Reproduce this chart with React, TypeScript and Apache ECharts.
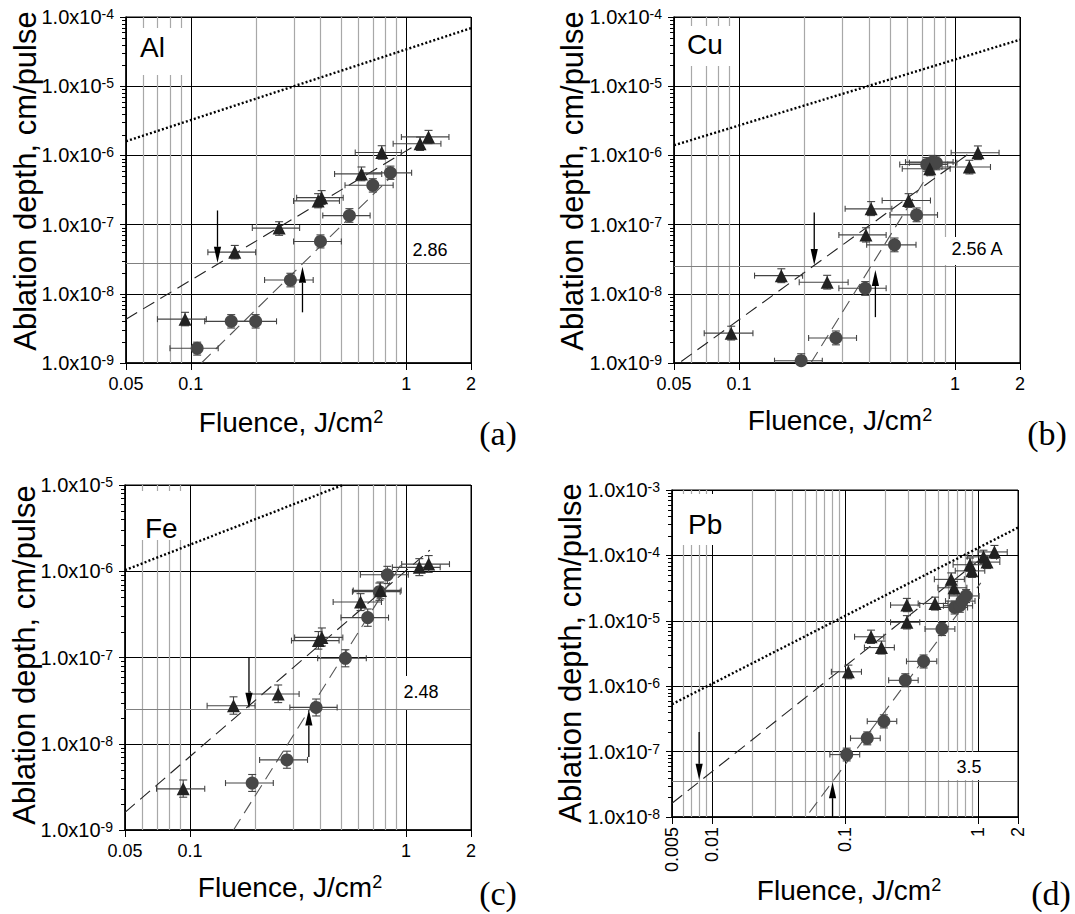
import React, { useEffect, useRef } from 'react';
import * as echarts from 'echarts';

const SANS = '"Liberation Sans", Arial, Helvetica, sans-serif';
const SERIF = '"Liberation Serif", "Times New Roman", serif';

// minor vertical grid-line values
const minorTicksStd = [0.06, 0.07, 0.08, 0.09, 0.2, 0.3, 0.4, 0.5, 0.6, 0.7, 0.8, 0.9];
const minorTicksPb = [0.006, 0.007, 0.008, 0.009, 0.02, 0.03, 0.04, 0.05, 0.06, 0.07, 0.08, 0.09, 0.2, 0.3, 0.4, 0.5, 0.6, 0.7, 0.8, 0.9];
// minor y-tick multipliers within each decade
const minorMultipliers = [2, 3, 4, 5, 6, 7, 8, 9];

// [fluence, depth, fluenceLow, fluenceHigh, depthLow, depthHigh]
// (a) Al
const alTriangles = [
  [0.094, 4.3e-9, 0.07, 0.118, 3.45e-9, 5.4e-9],
  [0.16, 4.0e-8, 0.12, 0.2, 3.2e-8, 5.0e-8],
  [0.257, 8.9e-8, 0.193, 0.32, 7.0e-8, 1.1e-7],
  [0.39, 2.2e-7, 0.3, 0.49, 1.75e-7, 2.8e-7],
  [0.405, 2.45e-7, 0.31, 0.51, 1.95e-7, 3.1e-7],
  [0.62, 5.4e-7, 0.465, 0.77, 4.3e-7, 6.8e-7],
  [0.77, 1.1e-6, 0.58, 0.95, 0.88e-6, 1.38e-6],
  [1.16, 1.47e-6, 0.87, 1.45, 1.18e-6, 1.84e-6],
  [1.27, 1.85e-6, 0.95, 1.58, 1.48e-6, 2.3e-6],
];
const alCircles = [
  [0.107, 1.63e-9, 0.08, 0.134, 1.3e-9, 2.0e-9],
  [0.154, 4.0e-9, 0.116, 0.193, 3.2e-9, 5.0e-9],
  [0.2, 4.0e-9, 0.15, 0.25, 3.2e-9, 5.0e-9],
  [0.29, 1.58e-8, 0.22, 0.37, 1.26e-8, 1.98e-8],
  [0.4, 5.7e-8, 0.3, 0.5, 4.6e-8, 7.1e-8],
  [0.545, 1.35e-7, 0.41, 0.68, 1.08e-7, 1.7e-7],
  [0.7, 3.7e-7, 0.52, 0.87, 2.95e-7, 4.6e-7],
  [0.845, 5.6e-7, 0.63, 1.06, 4.5e-7, 7.0e-7],
];
const alTriangleFit = [[0.05, 4.3e-9], [1.07, 1.32e-6]];
const alCircleFit = [[0.112, 1e-9], [0.88, 5.4e-7]];
const alDotted = [[0.05, 1.6e-6], [2, 6.9e-5]];
const alArrows = [[0.133, 1.6e-7, 2.8e-8], [0.33, 5.4e-9, 2.45e-8]];
const alThreshold = 2.75e-8;

// (b) Cu
const cuTriangles = [
  [0.092, 2.7e-9, 0.069, 0.116, 2.15e-9, 3.4e-9],
  [0.157, 1.83e-8, 0.118, 0.197, 1.45e-8, 2.3e-8],
  [0.256, 1.47e-8, 0.19, 0.32, 1.17e-8, 1.85e-8],
  [0.387, 7.1e-8, 0.29, 0.48, 5.6e-8, 9.0e-8],
  [0.409, 1.69e-7, 0.31, 0.51, 1.35e-7, 2.15e-7],
  [0.61, 2.23e-7, 0.46, 0.77, 1.77e-7, 2.8e-7],
  [0.764, 6.4e-7, 0.57, 0.95, 5.1e-7, 8.0e-7],
  [1.166, 6.8e-7, 0.87, 1.46, 5.4e-7, 8.5e-7],
  [1.277, 1.09e-6, 0.96, 1.6, 0.87e-6, 1.37e-6],
];
const cuCircles = [
  [0.194, 1.08e-9, 0.146, 0.243, 0.86e-9, 1.36e-9],
  [0.281, 2.3e-9, 0.21, 0.35, 1.83e-9, 2.9e-9],
  [0.384, 1.2e-8, 0.29, 0.48, 0.95e-8, 1.5e-8],
  [0.525, 5.1e-8, 0.39, 0.66, 4.05e-8, 6.4e-8],
  [0.664, 1.38e-7, 0.5, 0.83, 1.1e-7, 1.74e-7],
  [0.74, 7.4e-7, 0.555, 0.925, 5.9e-7, 9.3e-7],
  [0.785, 8.0e-7, 0.59, 0.98, 6.4e-7, 1.0e-6],
  [0.82, 7.8e-7, 0.615, 1.02, 6.2e-7, 9.8e-7],
];
const cuTriangleFit = [[0.054, 1.05e-9], [1.144, 1.03e-6]];
const cuCircleFit = [[0.215, 1e-9], [0.78, 6.4e-7]];
const cuDotted = [[0.05, 1.4e-6], [2, 4.7e-5]];
const cuArrows = [[0.223, 1.5e-7, 2.6e-8], [0.428, 4.6e-9, 2.2e-8]];
const cuThreshold = 2.5e-8;

// (c) Fe
const feTriangles = [
  [0.093, 3.0e-9, 0.07, 0.117, 2.4e-9, 3.8e-9],
  [0.159, 2.76e-8, 0.12, 0.2, 2.2e-8, 3.5e-8],
  [0.256, 3.77e-8, 0.19, 0.32, 3.0e-8, 4.8e-8],
  [0.393, 1.57e-7, 0.295, 0.49, 1.25e-7, 2.0e-7],
  [0.408, 1.71e-7, 0.305, 0.51, 1.36e-7, 2.2e-7],
  [0.616, 4.4e-7, 0.46, 0.77, 3.5e-7, 5.5e-7],
  [0.762, 6.0e-7, 0.57, 0.95, 4.8e-7, 7.5e-7],
  [1.153, 1.11e-6, 0.865, 1.44, 0.89e-6, 1.4e-6],
  [1.274, 1.21e-6, 0.955, 1.59, 0.97e-6, 1.52e-6],
];
const feCircles = [
  [0.194, 3.5e-9, 0.146, 0.243, 2.8e-9, 4.4e-9],
  [0.281, 6.5e-9, 0.21, 0.35, 5.2e-9, 8.2e-9],
  [0.3835, 2.64e-8, 0.29, 0.48, 2.1e-8, 3.3e-8],
  [0.524, 9.8e-8, 0.39, 0.655, 7.8e-8, 1.23e-7],
  [0.665, 2.9e-7, 0.5, 0.83, 2.3e-7, 3.65e-7],
  [0.753, 5.8e-7, 0.565, 0.94, 4.6e-7, 7.3e-7],
  [0.82, 9.1e-7, 0.615, 1.025, 7.2e-7, 1.14e-6],
];
const feTriangleFit = [[0.05, 1.6e-9], [1.29, 1.76e-6]];
const feCircleFit = [[0.159, 1e-9], [0.95, 1.2e-6]];
const feDotted = [[0.05, 1.03e-6], [0.51, 1e-5]];
const feArrows = [[0.1875, 1e-7, 2.55e-8], [0.355, 7e-9, 2.5e-8]];
const feThreshold = 2.5e-8;

// (d) Pb
const pbTriangles = [
  [0.106, 1.66e-6, 0.079, 0.133, 1.3e-6, 2.1e-6],
  [0.157, 5.7e-6, 0.118, 0.196, 4.5e-6, 7.2e-6],
  [0.188, 3.9e-6, 0.14, 0.235, 3.1e-6, 4.9e-6],
  [0.292, 1.74e-5, 0.22, 0.365, 1.38e-5, 2.2e-5],
  [0.292, 9.5e-6, 0.22, 0.365, 7.5e-6, 1.2e-5],
  [0.475, 1.84e-5, 0.355, 0.595, 1.46e-5, 2.3e-5],
  [0.629, 4.3e-5, 0.47, 0.79, 3.4e-5, 5.4e-5],
  [0.66, 3.2e-5, 0.5, 0.825, 2.5e-5, 4.0e-5],
  [0.87, 7.2e-5, 0.65, 1.09, 5.7e-5, 9.1e-5],
  [0.9, 5.8e-5, 0.675, 1.125, 4.6e-5, 7.3e-5],
  [1.1, 9.5e-5, 0.83, 1.38, 7.5e-5, 1.2e-4],
  [1.17, 7.9e-5, 0.88, 1.46, 6.3e-5, 1.0e-4],
  [1.33, 1.13e-4, 1.0, 1.66, 9.0e-5, 1.42e-4],
];
const pbCircles = [
  [0.103, 9.0e-8, 0.077, 0.129, 7.2e-8, 1.13e-7],
  [0.147, 1.6e-7, 0.11, 0.184, 1.27e-7, 2.0e-7],
  [0.196, 2.9e-7, 0.147, 0.245, 2.3e-7, 3.65e-7],
  [0.284, 1.23e-6, 0.213, 0.355, 0.98e-6, 1.55e-6],
  [0.39, 2.4e-6, 0.29, 0.49, 1.9e-6, 3.0e-6],
  [0.536, 7.5e-6, 0.4, 0.67, 5.95e-6, 9.4e-6],
  [0.668, 1.6e-5, 0.5, 0.835, 1.27e-5, 2.0e-5],
  [0.73, 1.7e-5, 0.55, 0.91, 1.35e-5, 2.15e-5],
  [0.76, 2.0e-5, 0.57, 0.95, 1.6e-5, 2.5e-5],
  [0.814, 2.4e-5, 0.61, 1.02, 1.9e-5, 3.0e-5],
];
const pbTriangleFit = [[0.005, 1.62e-8], [1.11, 9.7e-5]];
const pbCircleFit = [[0.054, 1.17e-8], [1.05, 3.8e-5]];
const pbDotted = [[0.005, 5.3e-7], [2, 2.66e-4]];
const pbArrows = [[0.008, 2.0e-7, 3.7e-8], [0.0806, 1e-8, 3.4e-8]];
const pbThreshold = 3.6e-8;

const panels = [
  { name: 'Al', letter: '(a)', ratio: '2.86', x: [0.05, 2], y: [1e-9, 1e-4], minor: minorTicksStd, tri: alTriangles, cir: alCircles, triFit: alTriangleFit, cirFit: alCircleFit, dot: alDotted, arrows: alArrows, thr: alThreshold },
  { name: 'Cu', letter: '(b)', ratio: '2.56 A', x: [0.05, 2], y: [1e-9, 1e-4], minor: minorTicksStd, tri: cuTriangles, cir: cuCircles, triFit: cuTriangleFit, cirFit: cuCircleFit, dot: cuDotted, arrows: cuArrows, thr: cuThreshold },
  { name: 'Fe', letter: '(c)', ratio: '2.48', x: [0.05, 2], y: [1e-9, 1e-5], minor: minorTicksStd, tri: feTriangles, cir: feCircles, triFit: feTriangleFit, cirFit: feCircleFit, dot: feDotted, arrows: feArrows, thr: feThreshold },
  { name: 'Pb', letter: '(d)', ratio: '3.5', x: [0.005, 2], y: [1e-8, 1e-3], minor: minorTicksPb, tri: pbTriangles, cir: pbCircles, triFit: pbTriangleFit, cirFit: pbCircleFit, dot: pbDotted, arrows: pbArrows, thr: pbThreshold },
];

// layout (pixels)
const layouts = [
  { grid: { left: 126, top: 17, width: 345, height: 346 }, nameBox: [128, 28, 58, 47], nameXY: [140, 47], ratioBox: [408, 236, 62, 27], ratioXY: [430, 250], yTitle: [25, 181], xTitle: [291, 422], letterXY: [498, 433] },
  { grid: { left: 674, top: 17, width: 346, height: 346 }, nameBox: [677, 26, 58, 40], nameXY: [687, 44], ratioBox: [940, 237, 79, 28], ratioXY: [977, 249], yTitle: [572, 181], xTitle: [840, 420], letterXY: [1047, 433] },
  { grid: { left: 125, top: 485, width: 346, height: 345 }, nameBox: [128, 491, 58, 49], nameXY: [145, 528], ratioBox: [398, 676, 72, 33], ratioXY: [421, 692], yTitle: [24, 655], xTitle: [290, 887], letterXY: [498, 893] },
  { grid: { left: 672, top: 490, width: 346, height: 327 }, nameBox: [676, 494, 46, 51], nameXY: [688, 524], ratioBox: [945, 752, 72, 28], ratioXY: [969, 767], yTitle: [570, 653], xTitle: [849, 890], letterXY: [1051, 893] },
];

function minorYValues(range: number[]) {
  const lo = Math.round(Math.log10(range[0]));
  const hi = Math.round(Math.log10(range[1]));
  const out: number[] = [];
  for (let e = lo; e < hi; e++) minorMultipliers.forEach((m) => out.push(m * Math.pow(10, e)));
  return out;
}

function buildOption() {
  const grid: any[] = [];
  const xAxis: any[] = [];
  const yAxis: any[] = [];
  const series: any[] = [];
  const graphic: any[] = [];

  panels.forEach((p, i) => {
    const L = layouts[i];
    grid.push({ ...L.grid, show: true, borderColor: '#000', borderWidth: 1, backgroundColor: '#fff' });
    xAxis.push({
      type: 'log', logBase: 10, gridIndex: i, min: p.x[0], max: p.x[1],
      axisLine: { show: true, lineStyle: { color: '#000', width: 1.5 } },
      axisTick: { show: true, length: 7, lineStyle: { color: '#000', width: 1 } },
      axisLabel: {
        show: true, color: '#000', fontSize: 18, fontFamily: SANS, margin: i === 3 ? 10 : 12,
        rotate: i === 3 ? 90 : 0, showMinLabel: true, showMaxLabel: true,
        formatter: (v: number) => String(Number(v.toPrecision(3))),
      },
      splitLine: { show: true, lineStyle: { color: '#000', width: 1 } },
    });
    yAxis.push({
      type: 'log', logBase: 10, gridIndex: i, min: p.y[0], max: p.y[1],
      axisLine: { show: true, lineStyle: { color: '#000', width: 1.5 } },
      axisTick: { show: true, length: 6, lineStyle: { color: '#000', width: 1 } },
      minorTick: { show: false },
      axisLabel: {
        show: true, margin: 12, showMinLabel: true, showMaxLabel: true,
        formatter: (v: number) => `{m|1.0x10}{s|${Math.round(Math.log10(v))}}`,
        rich: {
          m: { fontSize: 20, fontFamily: SANS, color: '#000' },
          s: { fontSize: 14, fontFamily: SANS, color: '#000', verticalAlign: 'top' },
        },
      },
      splitLine: { show: true, lineStyle: { color: '#000', width: 1 } },
    });

    const ax = { xAxisIndex: i, yAxisIndex: i };
    const yMin = p.y[0];
    const xMin = p.x[0];

    // minor vertical grid lines
    series.push({
      type: 'custom', ...ax, z: 1, silent: true, clip: true,
      data: p.minor.map((v) => [v, yMin]), encode: { x: 0, y: 1 },
      renderItem: (params: any, api: any) => {
        const cs = params.coordSys;
        const x = Math.round(api.coord([api.value(0), api.value(1)])[0]) + 0.5;
        return { type: 'line', shape: { x1: x, y1: cs.y, x2: x, y2: cs.y + cs.height }, style: { stroke: '#a8a8a8', lineWidth: 1.2 } };
      },
    });
    // minor y ticks on left axis
    series.push({
      type: 'custom', ...ax, z: 1, silent: true,
      data: minorYValues(p.y).map((v) => [xMin, v]), encode: { x: 0, y: 1 },
      renderItem: (params: any, api: any) => {
        const pt = api.coord([api.value(0), api.value(1)]);
        const y = Math.round(pt[1]) + 0.5;
        return { type: 'line', shape: { x1: pt[0] - 4, y1: y, x2: pt[0], y2: y }, style: { stroke: '#000', lineWidth: 1 } };
      },
    });
    // threshold line
    series.push({
      type: 'custom', ...ax, z: 1, silent: true,
      data: [[xMin, p.thr]], encode: { x: 0, y: 1 },
      renderItem: (params: any, api: any) => {
        const cs = params.coordSys;
        const y = Math.round(api.coord([api.value(0), api.value(1)])[1]) + 0.5;
        return { type: 'line', shape: { x1: cs.x, y1: y, x2: cs.x + cs.width, y2: y }, style: { stroke: '#808080', lineWidth: 1.2 } };
      },
    });
    series.push({
      type: 'line', ...ax, z: 3, silent: true, data: p.dot, showSymbol: false, symbol: 'none',
      lineStyle: { color: '#000', width: 2.4, type: [2, 2.2] },
    });
    series.push({
      type: 'line', ...ax, z: 3, silent: true, data: p.triFit, showSymbol: false, symbol: 'none',
      lineStyle: { color: '#222', width: 1.1, type: [13, 7] },
    });
    series.push({
      type: 'line', ...ax, z: 3, silent: true, data: p.cirFit, showSymbol: false, symbol: 'none',
      lineStyle: { color: '#555', width: 1.1, type: [13, 7] },
    });
    const errSeries = (rows: number[][]) => ({
      type: 'custom', ...ax, z: 4, silent: true, clip: true,
      data: rows, encode: { x: 0, y: 1 },
      renderItem: (params: any, api: any) => {
        const x = api.value(0), y = api.value(1);
        const pl = api.coord([api.value(2), y]);
        const pr = api.coord([api.value(3), y]);
        const pb = api.coord([x, api.value(4)]);
        const pt = api.coord([x, api.value(5)]);
        const st = { stroke: '#444', lineWidth: 1.1 };
        const ln = (x1: number, y1: number, x2: number, y2: number) => ({ type: 'line', shape: { x1, y1, x2, y2 }, style: st });
        return {
          type: 'group',
          children: [
            ln(pl[0], pl[1], pr[0], pr[1]),
            ln(pl[0], pl[1] - 3, pl[0], pl[1] + 3),
            ln(pr[0], pr[1] - 3, pr[0], pr[1] + 3),
            ln(pb[0], pb[1], pt[0], pt[1]),
            ln(pb[0] - 4, pb[1], pb[0] + 4, pb[1]),
            ln(pt[0] - 4, pt[1], pt[0] + 4, pt[1]),
          ],
        };
      },
    });
    series.push(errSeries(p.tri));
    series.push(errSeries(p.cir));
    series.push({
      type: 'scatter', ...ax, z: 5, silent: true, symbol: 'circle', symbolSize: 13,
      data: p.cir.map((d) => [d[0], d[1]]), itemStyle: { color: '#474747', opacity: 1 },
    });
    series.push({
      type: 'scatter', ...ax, z: 5, silent: true, symbol: 'triangle', symbolSize: 13,
      data: p.tri.map((d) => [d[0], d[1]]), itemStyle: { color: '#222', opacity: 1 },
    });
    series.push({
      type: 'custom', ...ax, z: 6, silent: true,
      data: p.arrows, encode: { x: 0, y: 1 },
      renderItem: (params: any, api: any) => {
        const x = api.value(0);
        const p1 = api.coord([x, api.value(1)]);
        const p2 = api.coord([x, api.value(2)]);
        const dir = p2[1] > p1[1] ? 1 : -1;
        const hl = 16, hw = 3.6;
        return {
          type: 'group',
          children: [
            { type: 'line', shape: { x1: p1[0], y1: p1[1], x2: p2[0], y2: p2[1] - dir * hl }, style: { stroke: '#000', lineWidth: 1.3 } },
            { type: 'polygon', shape: { points: [[p2[0], p2[1]], [p2[0] - hw, p2[1] - dir * hl], [p2[0] + hw, p2[1] - dir * hl]] }, style: { fill: '#000' } },
          ],
        };
      },
    });

    // boxes and texts
    graphic.push({ type: 'rect', z: 2, silent: true, shape: { x: L.nameBox[0], y: L.nameBox[1], width: L.nameBox[2], height: L.nameBox[3] }, style: { fill: '#fff' } });
    graphic.push({ type: 'text', z: 7, silent: true, x: L.nameXY[0], y: L.nameXY[1], style: { text: p.name, font: `28px ${SANS}`, fill: '#000', align: 'left', verticalAlign: 'middle' } });
    graphic.push({ type: 'rect', z: 2, silent: true, shape: { x: L.ratioBox[0], y: L.ratioBox[1], width: L.ratioBox[2], height: L.ratioBox[3] }, style: { fill: '#fff' } });
    graphic.push({ type: 'text', z: 7, silent: true, x: L.ratioXY[0], y: L.ratioXY[1], style: { text: p.ratio, font: `18px ${SANS}`, fill: '#000', align: 'center', verticalAlign: 'middle' } });
    graphic.push({ type: 'text', z: 7, silent: true, x: L.yTitle[0], y: L.yTitle[1], rotation: Math.PI / 2, style: { text: 'Ablation depth, cm/pulse', font: `31px ${SANS}`, fill: '#000', align: 'center', verticalAlign: 'middle' } });
    graphic.push({
      type: 'text', z: 7, silent: true, x: L.xTitle[0], y: L.xTitle[1],
      style: {
        text: '{m|Fluence, J/cm}{s|2}', align: 'center', verticalAlign: 'middle',
        rich: {
          m: { fontSize: 28, fontFamily: SANS, fill: '#000', color: '#000' },
          s: { fontSize: 18, fontFamily: SANS, fill: '#000', color: '#000', verticalAlign: 'top' },
        },
      },
    });
    graphic.push({ type: 'text', z: 7, silent: true, x: L.letterXY[0], y: L.letterXY[1], style: { text: p.letter, font: `34px ${SERIF}`, fill: '#000', align: 'center', verticalAlign: 'middle' } });
  });

  return { animation: false, backgroundColor: '#fff', grid, xAxis, yAxis, series, graphic };
}

export default function App() {
  const ref = useRef<HTMLDivElement>(null);
  useEffect(() => {
    if (!ref.current) return;
    const chart = echarts.init(ref.current, undefined, { renderer: 'svg' });
    chart.setOption(buildOption() as any);
    return () => chart.dispose();
  }, []);
  return <div ref={ref} style={{ position: 'absolute', left: 0, top: 0, width: 1075, height: 914 }} />;
}
